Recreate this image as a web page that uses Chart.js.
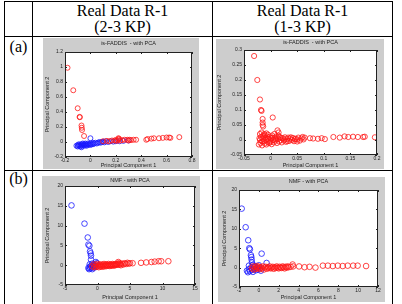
<!DOCTYPE html>
<html>
<head>
<meta charset="utf-8">
<script src="https://cdn.jsdelivr.net/npm/chart.js@4.4.0/dist/chart.umd.min.js"></script>
<style>
body{margin:0;width:402px;height:304px;overflow:hidden;position:relative;background:#fff;font-family:"Liberation Serif","Times New Roman",serif}
.ln{position:absolute;background:#000}
.hd{position:absolute;text-align:center;font-size:16px;line-height:16px;color:#000}
canvas{position:absolute;background:#cdcdcd}
</style>
</head>
<body>
<div class="ln" style="left:4px;top:1px;width:389px;height:1px"></div>
<div class="ln" style="left:4px;top:36px;width:389px;height:1px"></div>
<div class="ln" style="left:4px;top:170px;width:389px;height:1px"></div>
<div class="ln" style="left:4px;top:1px;width:1px;height:303px"></div>
<div class="ln" style="left:32px;top:1px;width:1px;height:303px"></div>
<div class="ln" style="left:212px;top:1px;width:1px;height:303px"></div>
<div class="ln" style="left:392px;top:1px;width:1px;height:303px"></div>

<div class="hd" style="left:33px;top:3px;width:179px">Real Data R-1<br>(2-3 KP)</div>
<div class="hd" style="left:213px;top:3px;width:179px">Real Data R-1<br>(1-3 KP)</div>
<div class="hd" style="left:5px;top:39px;width:27px">(a)</div>
<div class="hd" style="left:5px;top:171px;width:27px">(b)</div>

<canvas id="a1"></canvas>
<canvas id="a2"></canvas>
<canvas id="b1"></canvas>
<canvas id="b2"></canvas>

<script>
// ---- data ----
const xTitle = 'Principal Component 1';
const yTitle = 'Principal Component 2';
const titleA = 'is-FADDIS  - with PCA';
const titleB = 'NMF - with PCA';

const a1XTicks = [-0.2, 0, 0.2, 0.4, 0.6, 0.8];
const a1YTicks = [-0.2, 0, 0.2, 0.4, 0.6, 0.8, 1, 1.2];
const a2XTicks = [-0.05, 0, 0.05, 0.1, 0.15, 0.2];
const a2YTicks = [-0.05, 0, 0.05, 0.1, 0.15, 0.2, 0.25, 0.3];
const b1XTicks = [-5, 0, 5, 10, 15];
const b1YTicks = [-5, 0, 5, 10, 15, 20];
const b2XTicks = [-2, 0, 2, 4, 6, 8, 10, 12];
const b2YTicks = [-5, 0, 5, 10, 15, 20];

const a1Red = [[-0.18,0.99],[-0.135,0.69],[-0.1,0.45],[-0.085,0.335],[-0.083,0.33],[-0.07,0.22],[-0.068,0.19],[-0.066,0.16],[-0.05,0.08],
  [0.1,0.01],[0.13,0.015],[0.15,0.01],[0.17,0.02],[0.19,0.02],[0.2,0.025],[0.21,0.015],[0.22,0.05],[0.225,0.045],[0.22,0.03],[0.235,0.02],
  [0.25,0.025],[0.27,0.03],[0.29,0.03],[0.3,0.02],[0.31,0.03],[0.32,0.025],[0.34,0.03],[0.36,0.03],[0.44,0.03],[0.45,0.04],[0.48,0.045],
  [0.5,0.05],[0.54,0.05],[0.57,0.055],[0.6,0.06],[0.62,0.06],[0.63,0.055],[0.7,0.065]];
const a1Blue = [[-0.11,-0.05],[-0.1,-0.04],[-0.1,-0.06],[-0.09,-0.03],[-0.09,-0.05],[-0.08,-0.04],[-0.08,-0.06],[-0.07,-0.03],[-0.07,-0.05],
  [-0.06,-0.04],[-0.06,-0.02],[-0.05,-0.05],[-0.05,-0.03],[-0.04,-0.04],[-0.04,-0.02],[-0.03,-0.03],[-0.03,-0.05],[-0.02,-0.02],[-0.02,-0.04],
  [-0.01,-0.03],[0,-0.02],[0,-0.04],[0.01,-0.03],[0.02,-0.01],[0.02,-0.03],[0.03,-0.02],[0.04,-0.01],[0.05,-0.02],[0.06,-0.01],[0.07,0],
  [0.08,-0.01],[0.09,0],[0.1,0.005],[0.11,-0.005],[0.12,0.01],[0.14,0],[0.16,0.01],[0.18,0.005],[0.2,0.01],[0.23,0.01],[0.26,0.015],
  [0.3,0.02],[0,0.05],[-0.07,-0.07]];

const a2Red = [[-0.031,0.28],[-0.025,0.2],[-0.02,0.135],[-0.018,0.1],[-0.017,0.097],[-0.015,0.07],[-0.015,0.058],[-0.015,0.05],[-0.014,0.045],
  [0.004,0.075],[0.013,0.032],[0.015,0.025],
  [-0.022,-0.015],[-0.02,0.0],[-0.02,0.02],[-0.019,-0.01],[-0.018,0.01],[-0.017,0.025],[-0.016,-0.018],[-0.015,0.005],[-0.014,0.015],
  [-0.013,-0.005],[-0.012,0.02],[-0.011,-0.012],[-0.01,0.008],[-0.009,0.0],[-0.008,-0.015],[-0.007,0.012],[-0.006,-0.006],[-0.005,0.018],
  [-0.004,0.003],[-0.003,-0.01],[-0.002,0.01],[0,-0.003],[0.001,0.006],[0.002,-0.014],[0.003,0.015],[0.005,0.0],[0.006,-0.008],[0.008,0.008],
  [0.009,-0.002],[0.011,0.012],[0.012,-0.01],[0.014,0.004],[0.016,-0.005],[0.017,0.01],[0.019,0.0],[0.021,-0.008],[0.023,0.006],[0.025,-0.002],
  [0.027,0.009],[0.029,-0.006],[0.031,0.003],[0.033,0.008],[0.035,-0.003],[0.037,0.005],[0.04,0.0],[0.042,0.007],[0.044,-0.004],[0.047,0.004],
  [0.05,0.002],[0.052,0.008],[0.055,-0.002],[0.058,0.005],[0.06,0.01],[0.062,0.002],
  [-0.021,0.006],[-0.016,-0.004],[-0.011,0.016],[-0.006,0.004],[-0.001,-0.008],[0.004,0.008],[0.01,0.002],[0.015,0.014],[0.02,0.007],
  [0.026,0.002],[0.032,-0.004],[0.038,0.009],[0.045,0.002],[0.05,-0.005],[0.007,0.02],[-0.008,0.022],
  [0.064,0.008],[0.074,0.006],[0.08,0.005],[0.089,0.004],[0.096,0.006],[0.102,0.003],[0.118,0.01],[0.13,0.008],[0.139,0.012],[0.146,0.01],
  [0.155,0.011],[0.164,0.01],[0.174,0.01],[0.177,0.011],[0.196,0.009]];

const b1Red = [[-0.8,-0.3],[-0.6,0.2],[-0.5,-0.5],[-0.3,0.0],[-0.2,-0.4],[0,0.3],[0.1,-0.2],[0.2,-0.5],[0.3,0.1],[0.4,-0.3],[0.5,0.2],
  [0.6,-0.1],[0.7,-0.4],[0.8,0.1],[0.9,-0.2],[1.0,0.3],[1.1,-0.3],[1.2,0.0],[1.3,0.2],[1.4,-0.2],[1.5,0.1],[1.6,-0.1],[1.7,0.3],[1.8,0.0],
  [1.9,-0.2],[2.0,0.2],[2.1,0.0],[2.2,-0.1],[2.3,0.3],[2.4,0.1],[2.5,-0.1],[2.6,0.2],[2.7,0.0],[2.8,0.3],[2.9,0.1],[3.0,0.2],[3.1,0.4],
  [3.2,0.8],[3.3,0.1],[3.4,0.5],[3.5,0.3],[3.6,0.0],[3.8,0.4],[4.0,0.2],[4.2,0.5],[4.4,0.3],[4.6,0.6],[4.8,0.4],[5.0,0.5],[5.4,0.5],
  [6.7,0.6],[7.5,0.7],[8.3,0.8],[8.8,0.9],[9.4,1.0],[9.8,1.0],[10.9,1.0]];
const b1Blue = [[-4.0,15.1],[-2.0,10.5],[-1.5,7.0],[-1.4,5.2],[-1.25,4.9],[-1.15,3.5],[-1.05,3.0],[-1.0,2.4],[-1.0,1.4],[-0.25,0.8],[-0.1,0.5],
  [-1.4,-0.7],[-1.3,-1.0],[-1.2,-0.4],[-1.1,-0.8],[-1.0,-0.2],[-0.9,-0.6],[-0.8,-1.0],[-0.7,-0.3],[-0.6,0.1],[-0.5,-0.6],[-0.4,-0.2],
  [-1.2,0.2],[-0.3,0.2],[-0.8,0.4],[-0.2,-0.4]];

const b2Red = [[-0.7,-0.2],[-0.6,0.3],[-0.5,-0.5],[-0.4,0.1],[-0.3,-0.3],[-0.2,0.4],[-0.1,-0.1],[0,0.2],[0.1,-0.4],[0.2,0.1],[0.3,-0.2],
  [0.4,0.3],[0.5,-0.5],[0.6,0.0],[0.7,0.2],[0.8,-0.3],[0.9,0.1],[1.0,-0.1],[1.1,0.3],[1.2,-0.2],[1.3,0.0],[1.4,0.2],[1.5,-0.3],[1.6,0.1],
  [1.7,-0.1],[1.8,0.3],[1.9,0.0],[2.0,-0.2],[2.1,0.2],[2.2,0.0],[2.3,-0.1],[2.4,0.3],[2.5,0.1],[2.6,-0.2],[2.7,0.2],[2.8,0.0],[2.9,0.3],
  [3.0,0.1],[3.2,0.2],[3.4,0.8],[3.45,0.3],[4.05,0.3],[4.6,0.1],[5.1,0.2],[5.7,0.0],[6.45,0.5],[6.95,0.5],[7.45,0.4],[7.95,0.5],[8.45,0.4],
  [8.95,0.5],[9.5,0.5],[9.95,0.5],[10.8,0.4]];
const b2Blue = [[-1.73,15.2],[-1.33,10.4],[-1.07,7.05],[-0.96,5.0],[-0.9,4.7],[-0.8,3.2],[-0.76,2.7],[-0.73,2.05],[-0.7,1.35],[0.28,3.6],[0.78,1.2],
  [-1.2,-0.8],[-1.1,-1.2],[-1.0,-0.4],[-0.9,-0.9],[-0.8,0.0],[-0.7,-0.6],[-0.6,-1.1],[-0.5,-0.3],[-0.4,0.4],[-0.3,-0.7],[-0.2,0.0],
  [-0.1,-0.5],[0,0.6],[0.1,-0.2],[0.2,-0.8],[-1.0,0.5],[-0.6,0.7]];

// ---- drawing ----
const pts = arr => arr.map(p => ({x: p[0], y: p[1]}));
const tickFont = {family: 'Liberation Sans, Arial, sans-serif', size: 5, lineHeight: 1};
const labFont = {family: 'Liberation Sans, Arial, sans-serif', size: 5.5, lineHeight: 1, weight: 'normal'};

const plotBox = {
  id: 'plotBox',
  beforeDatasetsDraw(c) {
    const a = c.chartArea, ctx = c.ctx;
    ctx.save();
    ctx.fillStyle = '#fff';
    ctx.fillRect(a.left, a.top, a.width, a.height);
    ctx.restore();
  },
  afterDatasetsDraw(c) {
    const a = c.chartArea, ctx = c.ctx;
    ctx.save();
    ctx.strokeStyle = '#222';
    ctx.lineWidth = 1;
    ctx.strokeRect(a.left + 0.5, a.top + 0.5, a.width - 1, a.height - 1);
    ctx.beginPath();
    c.scales.x.ticks.forEach(t => {
      const px = Math.round(c.scales.x.getPixelForValue(t.value)) + 0.5;
      ctx.moveTo(px, a.bottom); ctx.lineTo(px, a.bottom - 2);
      ctx.moveTo(px, a.top); ctx.lineTo(px, a.top + 2);
    });
    c.scales.y.ticks.forEach(t => {
      const py = Math.round(c.scales.y.getPixelForValue(t.value)) + 0.5;
      ctx.moveTo(a.left, py); ctx.lineTo(a.left + 2, py);
      ctx.moveTo(a.right, py); ctx.lineTo(a.right - 2, py);
    });
    ctx.stroke();
    ctx.restore();
  }
};

function panel(id, box, plot, title, xTicks, yTicks, red, blue) {
  const cv = document.getElementById(id);
  cv.width = box.w; cv.height = box.h;
  cv.style.left = box.x + 'px'; cv.style.top = box.y + 'px';
  const sets = [{data: pts(red), borderColor: '#ff1818'}];
  if (blue) sets.push({data: pts(blue), borderColor: '#1818ff'});
  sets.forEach(s => {
    s.pointStyle = 'circle'; s.pointRadius = plot.r0; s.borderWidth = 0.8;
    s.backgroundColor = 'rgba(0,0,0,0)'; s.showLine = false;
  });
  const titleH = plot.t - box.y;
  new Chart(cv, {
    type: 'scatter',
    data: {datasets: sets},
    plugins: [plotBox],
    options: {
      responsive: false, animation: false, events: [], devicePixelRatio: 1,
      layout: {autoPadding: false, padding: {left: 0, top: 0, bottom: 0, right: box.x + box.w - plot.r}},
      plugins: {
        legend: {display: false}, tooltip: {enabled: false},
        title: {display: true, text: title, fullSize: false, color: '#222', font: labFont,
          padding: {top: plot.tt, bottom: titleH - plot.tt - labFont.size}}
      },
      scales: {
        x: {
          type: 'linear', min: xTicks[0], max: xTicks[xTicks.length - 1],
          afterFit: s => { s.height = box.y + box.h - plot.b; },
          afterBuildTicks: s => { s.ticks = xTicks.map(v => ({value: v})); },
          ticks: {font: tickFont, color: '#222', padding: 1.5, maxRotation: 0, autoSkip: false, callback: v => String(v)},
          grid: {display: false, drawTicks: false}, border: {display: false},
          title: {display: true, text: xTitle, color: '#222', font: labFont, padding: {top: 0, bottom: plot.xb}}
        },
        y: {
          type: 'linear', min: yTicks[0], max: yTicks[yTicks.length - 1],
          afterFit: s => { s.width = plot.l - box.x; },
          afterBuildTicks: s => { s.ticks = yTicks.map(v => ({value: v})); },
          ticks: {font: tickFont, color: '#222', padding: 2, autoSkip: false, callback: v => String(v)},
          grid: {display: false, drawTicks: false}, border: {display: false},
          title: {display: true, text: yTitle, color: '#222', font: labFont, padding: {top: plot.yl, bottom: 0}}
        }
      }
    }
  });
}

panel('a1', {x: 43, y: 38, w: 156, h: 131}, {l: 65, t: 52, r: 192, b: 157, tt: 3, xb: 0.3, yl: 1.3, r0: 2.5},
  titleA, a1XTicks, a1YTicks, a1Red, a1Blue);
panel('a2', {x: 216, y: 39, w: 168, h: 130}, {l: 244, t: 50, r: 377, b: 155, tt: 1, xb: 0.3, yl: 0.5, r0: 2.6},
  titleA, a2XTicks, a2YTicks, a2Red, null);
panel('b1', {x: 42, y: 176, w: 158, h: 126}, {l: 65, t: 186, r: 195, b: 285, tt: 2, xb: 1.5, yl: 2.5, r0: 2.8},
  titleB, b1XTicks, b1YTicks, b1Red, b1Blue);
panel('b2', {x: 218, y: 177, w: 167, h: 125}, {l: 239, t: 190, r: 378, b: 287, tt: 1.5, xb: 1.5, yl: 4, r0: 2.8},
  titleB, b2XTicks, b2YTicks, b2Red, b2Blue);
</script>
</body>
</html>
